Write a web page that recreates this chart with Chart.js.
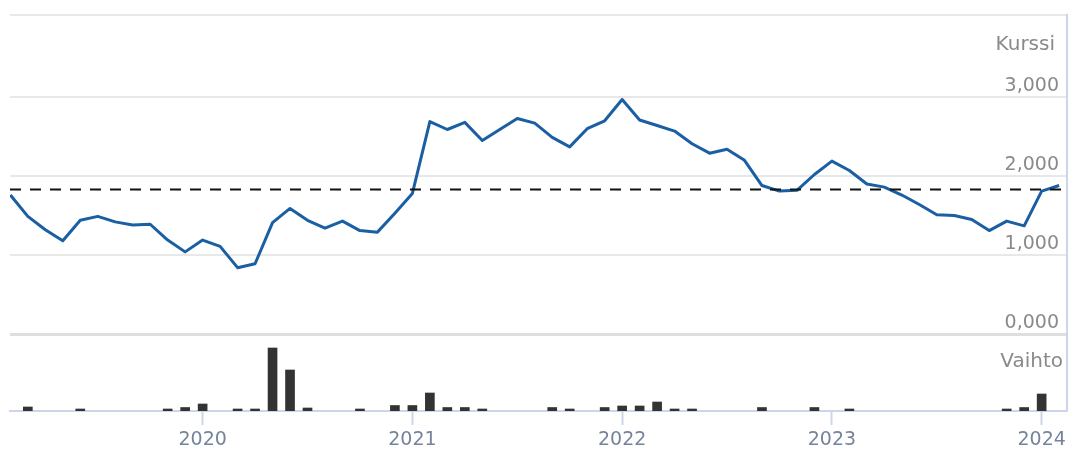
<!DOCTYPE html>
<html lang="fi">
<head>
<meta charset="utf-8">
<title>Kurssi ja vaihto</title>
<script src="https://cdn.jsdelivr.net/npm/chart.js@4.4.1/dist/chart.umd.min.js"></script>
<style>
  html, body { margin: 0; padding: 0; background: #fff; }
  #wrap { position: relative; width: 1071px; height: 450px; }
</style>
</head>
<body>
<div id="wrap"><canvas id="chart"></canvas></div>
<script>
// ---------- Data ----------
// monthly closes, Feb 2019 .. Feb 2024
const months = [
  '2019-02', '2019-03', '2019-04', '2019-05', '2019-06', '2019-07', '2019-08', '2019-09', '2019-10', '2019-11', '2019-12',
  '2020-01', '2020-02', '2020-03', '2020-04', '2020-05', '2020-06', '2020-07', '2020-08', '2020-09', '2020-10', '2020-11', '2020-12',
  '2021-01', '2021-02', '2021-03', '2021-04', '2021-05', '2021-06', '2021-07', '2021-08', '2021-09', '2021-10', '2021-11', '2021-12',
  '2022-01', '2022-02', '2022-03', '2022-04', '2022-05', '2022-06', '2022-07', '2022-08', '2022-09', '2022-10', '2022-11', '2022-12',
  '2023-01', '2023-02', '2023-03', '2023-04', '2023-05', '2023-06', '2023-07', '2023-08', '2023-09', '2023-10', '2023-11', '2023-12',
  '2024-01', '2024-02'
];

const kurssi = [
  1.76, 1.49, 1.32, 1.18, 1.44, 1.49, 1.42, 1.38, 1.39, 1.19, 1.04,
  1.19, 1.11, 0.84, 0.89, 1.41, 1.59, 1.44, 1.34, 1.43, 1.31, 1.29, 1.53,
  1.78, 2.69, 2.59, 2.68, 2.45, 2.59, 2.73, 2.67, 2.49, 2.37, 2.60, 2.70,
  2.97, 2.71, 2.64, 2.57, 2.41, 2.29, 2.34, 2.20, 1.88, 1.81, 1.82, 2.02,
  2.19, 2.07, 1.90, 1.86, 1.76, 1.64, 1.51, 1.50, 1.45, 1.31, 1.43, 1.37,
  1.81, 1.88
];

// volume, thousand shares
const vaihto = [
  0, 4, 0, 0, 2, 0, 0, 0, 0, 2, 3.5,
  7, 0, 2, 2, 63, 41, 3, 0, 0, 2, 0, 5.5,
  5.5, 18, 3.5, 3.5, 2, 0, 0, 0, 3.5, 2, 0, 3.5,
  5, 5, 9, 2, 2, 0, 0, 0, 3.5, 0, 0, 3.5,
  0, 2, 0, 0, 0, 0, 0, 0, 0, 0, 2, 3.5,
  17, 0
];

const keskiKurssi = 1.83;          // dashed reference line
const yearTicks = [2020, 2021, 2022, 2023, 2024];
const kurssiTicks = [0, 1, 2, 3];

// ---------- Helpers ----------
function monthIndex(s) {
  const [y, m] = s.split('-').map(Number);
  return (y - 2019) * 12 + (m - 1);
}
const fmt = v => v.toFixed(3).replace('.', ',');

const X_MIN = 0.98, X_MAX = 61.45, Y_MAX = 4.04;
const axisGrey = '#ccd6eb';
const font = { family: 'DejaVu Sans', size: 19 };

const linePts = months.map((m, i) => ({ x: monthIndex(m), y: kurssi[i] }));
const barPts = months
  .map((m, i) => ({ x: monthIndex(m), y: vaihto[i] }))
  .filter(p => p.y > 0);

// axis titles drawn at the top of each stacked axis
const axisTitles = {
  id: 'axisTitles',
  afterDraw(chart, args, opts) {
    const { ctx } = chart;
    ctx.save();
    ctx.font = '20px "DejaVu Sans"';
    ctx.fillStyle = '#8a8a8a';
    ctx.textAlign = 'right';
    ctx.textBaseline = 'middle';
    opts.items.forEach(t => {
      const s = chart.scales[t.axis];
      ctx.fillText(t.text, t.x, s.top + t.dy);
    });
    ctx.restore();
  }
};

// ---------- Chart ----------
new Chart(document.getElementById('chart'), {
  data: {
    datasets: [
      {
        type: 'line',
        data: [{ x: X_MIN, y: keskiKurssi }, { x: X_MAX, y: keskiKurssi }],
        yAxisID: 'y',
        borderColor: '#111',
        borderWidth: 2,
        borderDash: [11, 9],
        pointRadius: 0,
        order: 0
      },
      {
        type: 'line',
        label: 'Kurssi',
        data: linePts,
        yAxisID: 'y',
        borderColor: '#1a5fa3',
        borderWidth: 3,
        borderJoinStyle: 'round',
        pointRadius: 0,
        tension: 0,
        order: 1
      },
      {
        type: 'bar',
        label: 'Vaihto',
        data: barPts,
        yAxisID: 'yv',
        backgroundColor: '#333333',
        barThickness: 9,
        order: 2
      }
    ]
  },
  options: {
    responsive: true,
    maintainAspectRatio: false,
    animation: false,
    layout: { padding: { left: 10, top: 15, right: 0, bottom: 0 } },
    plugins: {
      legend: { display: false },
      tooltip: { enabled: false },
      axisTitles: {
        items: [
          { axis: 'y', text: 'Kurssi', x: 1055, dy: 30 },
          { axis: 'yv', text: 'Vaihto', x: 1063, dy: 28 }
        ]
      }
    },
    scales: {
      x: {
        type: 'linear',
        offset: false,
        min: X_MIN,
        max: X_MAX,
        afterBuildTicks: s => { s.ticks = yearTicks.map(y => ({ value: (y - 2019) * 12 })); },
        afterFit: s => { s.height = 39; },
        grid: { offset: false, drawOnChartArea: false, drawTicks: true, tickLength: 14, tickWidth: 2, tickColor: axisGrey },
        border: { display: true, color: axisGrey, width: 2 },
        ticks: {
          color: '#75849b',
          font,
          padding: 4,
          maxRotation: 0,
          callback: v => String(2019 + v / 12)
        }
      },
      y: {
        type: 'linear',
        position: 'right',
        stack: 'paneelit',
        stackWeight: 319,
        min: 0,
        max: Y_MAX,
        afterBuildTicks: s => { s.ticks = kurssiTicks.concat([Y_MAX]).map(v => ({ value: v })); },
        afterFit: s => { s.width = 4; },
        grid: {
          drawTicks: false,
          color: ctx => ctx.tick && ctx.tick.value === 0 ? '#dedede' : '#e8e8e8',
          lineWidth: ctx => ctx.tick && ctx.tick.value === 0 ? 3 : 2
        },
        border: { display: true, color: axisGrey, width: 2 },
        ticks: {
          mirror: true,
          padding: -8,
          labelOffset: -11,
          color: '#8a8a8a',
          font,
          callback: v => (v === Y_MAX ? '' : fmt(v))
        }
      },
      yv: {
        type: 'linear',
        position: 'right',
        stack: 'paneelit',
        stackWeight: 77,
        min: 0,
        max: 77,
        afterFit: s => { s.width = 4; },
        grid: { display: false },
        border: { display: true, color: axisGrey, width: 2 },
        ticks: { display: false }
      }
    }
  },
  plugins: [axisTitles]
});
</script>
</body>
</html>
